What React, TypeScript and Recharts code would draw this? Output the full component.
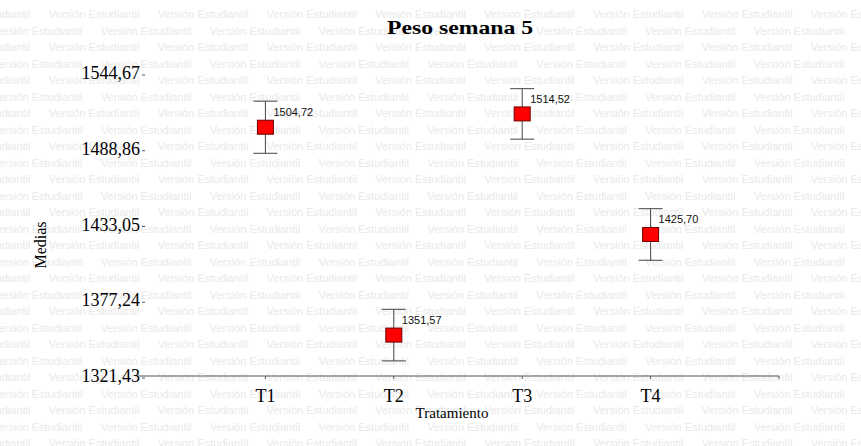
import { Scatter, ComposedChart, XAxis, YAxis, ErrorBar } from "recharts"

const tratamientos = ["T1", "T2", "T3", "T4"]
const medias = [1504.72, 1351.57, 1514.52, 1425.7]
const errores = [19.2, 19.0, 18.6, 19.0]
const yTicks = [1321.43, 1377.24, 1433.05, 1488.86, 1544.67]

const data = tratamientos.map((t, i) => ({
  x: i + 1,
  nombre: t,
  media: medias[i],
  error: errores[i],
}))

const coma = (v: number) => v.toFixed(2).replace(".", ",")

const serif = "'Liberation Serif', 'Times New Roman', serif"
const sans = "'Liberation Sans', Arial, sans-serif"

function Marca(props: any) {
  const { cx, cy, payload } = props
  return (
    <g>
      <rect x={cx - 8} y={cy - 7} width={16} height={14} fill="#ff0000" stroke="#6e0000" strokeWidth={1} />
      <text x={cx + 8} y={cy - 11} fontSize={11} fontFamily={sans} fill="#111">
        {coma(payload.media)}
      </text>
    </g>
  )
}

function TickY(props: any) {
  const { x, y, payload } = props
  return (
    <g>
      <text x={x + 3} y={y + 6} textAnchor="end" fontSize={18} fontFamily={serif} fill="#000">
        {coma(payload.value)}
      </text>
      <line x1={x + 5} x2={x + 8} y1={y + 2} y2={y + 2} stroke="#555" />
    </g>
  )
}

function TickX(props: any) {
  const { x, y, payload } = props
  return (
    <text x={x} y={y + 21} textAnchor="middle" fontSize={18} fontFamily={serif} fill="#000">
      {tratamientos[payload.value - 1]}
    </text>
  )
}

// fondo "Versión Estudiantil" que pone InfoStat
function MarcaDeAgua() {
  const filas = []
  const frase = "Versión Estudiantil      "
  for (let i = 0; i < 27; i++) {
    const desp = i % 2 === 0 ? -60 : -8
    filas.push(
      <div
        key={i}
        style={{
          position: "absolute",
          left: desp,
          top: 8 + i * 16.5,
          whiteSpace: "pre",
          fontFamily: sans,
          fontSize: 11,
          color: "#e9e9e9",
        }}
      >
        {frase.repeat(10)}
      </div>
    )
  }
  return <>{filas}</>
}

export default function App() {
  return (
    <div style={{ position: "absolute", left: 0, top: 0, width: 861, height: 446, overflow: "hidden", background: "#fff" }}>
      <MarcaDeAgua />
      <svg width={861} height={446} style={{ position: "absolute", left: 0, top: 0 }}>
        <text x={460} y={34} textAnchor="middle" fontSize={19} fontWeight="bold" fontFamily={serif} textLength={146} lengthAdjust="spacingAndGlyphs">
          Peso semana 5
        </text>
        <text x={452} y={418} textAnchor="middle" fontSize={15} fontFamily={serif}>
          Tratamiento
        </text>
        <text transform="translate(46,245) rotate(-90)" textAnchor="middle" fontSize={16} fontFamily={serif}>
          Medias
        </text>
      </svg>
      <div style={{ position: "absolute", left: 0, top: 0 }}>
        <ComposedChart width={861} height={446} data={data} margin={{ top: 73, right: 82, bottom: 30, left: 0 }}>
          <XAxis
            type="number"
            dataKey="x"
            domain={[0, 5]}
            ticks={[1, 2, 3, 4, 5]}
            tick={<TickX />}
            height={40}
            stroke="#555"
            tickSize={3}
            allowDataOverflow
          />
          <YAxis
            type="number"
            domain={[yTicks[0], yTicks[yTicks.length - 1]]}
            ticks={yTicks}
            tick={<TickY />}
            width={137}
            axisLine={false}
            tickLine={false}
            tickSize={0}
            tickMargin={0}
            allowDataOverflow
          />
          <Scatter dataKey="media" shape={<Marca />} isAnimationActive={false}>
            <ErrorBar dataKey="error" direction="y" width={12} stroke="#444" strokeWidth={1} isAnimationActive={false} />
          </Scatter>
        </ComposedChart>
      </div>
    </div>
  )
}
